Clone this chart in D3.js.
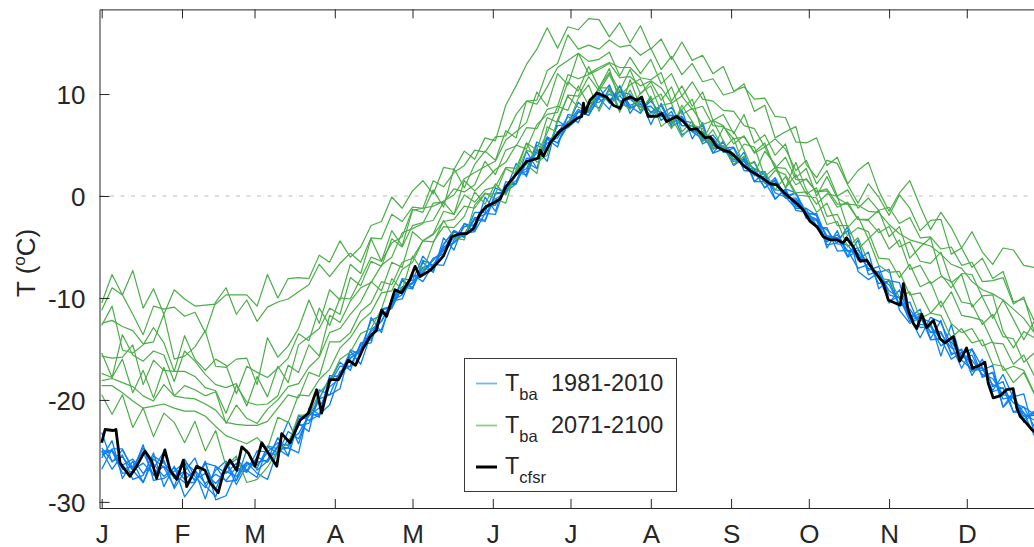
<!DOCTYPE html>
<html>
<head>
<meta charset="utf-8">
<script src="https://cdn.jsdelivr.net/npm/d3@7"></script>
<style>
  body { margin: 0; background: #fff; }
  svg { display: block; }
  text { font-family: "Liberation Sans", Arial, Helvetica, sans-serif; fill: #262626; }
</style>
</head>
<body>
<svg id="chart" width="1034" height="547"></svg>
<script>
// ---- axis labels ----
const monthStarts = [1, 32, 60, 91, 121, 152, 182, 213, 244, 274, 305, 335];
const monthLabels = ["J", "F", "M", "A", "M", "J", "J", "A", "S", "O", "N", "D"];
const tempTicks = [-30, -20, -10, 0, 10];

// ---- CFSR reanalysis (day of year, temperature in degC) ----
const cfsrDays = [1,2.3,5.4,6.5,8.1,11.9,14.5,17.7,20.3,22.2,
  25.4,27.4,30,32.5,33.8,37.7,40.9,42.8,46,47.9,
  50.5,53.1,55.1,57.6,60.2,62.8,65.3,68.6,70.5,73.7,
  77.6,80.8,84,85.9,89.1,92.4,96.2,99,102,104.6,
  107,109.1,111,114.2,116.8,120,122,123.9,127.8,129.7,
  132.9,136.1,139.3,141.9,144.5,147.1,149.6,152.2,154.8,157,
  161.2,165.1,169.6,170.3,171.5,174.1,178,181.9,184.4,186.3,
  187,187.6,189.5,191.5,192.1,194.1,196,198.5,201.1,202.4,
  205,207.6,209.5,212,215.3,217.2,219.1,223,225.6,228.2,
  230.7,234,235.9,238.5,241,243.6,246.2,248.7,251.3,253.9,
  256.4,259,261.6,264.2,266.8,270,271.9,274.5,277.1,279.6,
  282.2,284.8,287.3,288.6,291.2,293.8,296.4,299,300.9,302.8,
  304.7,307.3,309.3,310.5,312.4,314.4,315.7,317.6,319.5,322.1,
  324.7,326.5,329.8,332.3,334.9,337.2,340.1,342,343.3,345.2,
  347.8,350.4,352.9,354.3,355.6,358.1,360.1,363,365];
const cfsrTemp = [-24.2,-22.9,-23.0,-22.9,-26.2,-27.5,-26.5,-25.0,-26.0,-27.7,
  -24.9,-26.9,-27.8,-25.9,-28.5,-26.5,-26.9,-28.1,-29.1,-27.2,
  -25.9,-26.9,-24.6,-25.2,-26.5,-24.2,-25.2,-26.5,-23.3,-24.2,
  -22.0,-21.3,-19.0,-21.3,-18.0,-18.0,-16.1,-16.6,-14.9,-13.8,
  -13.2,-11.2,-11.8,-9.2,-9.5,-8.2,-6.9,-7.9,-7.3,-6.8,
  -5.9,-4.0,-3.7,-3.7,-3.2,-1.7,-1.0,-0.7,-0.3,0.9,
  2.2,3.4,3.7,4.5,3.9,5.2,6.4,7.1,7.6,7.8,
  9.1,8.1,9.4,9.9,10.1,9.9,9.7,8.9,8.6,9.4,
  9.7,9.4,9.7,7.8,7.8,8.1,7.3,7.8,7.3,6.5,
  6.6,5.7,5.8,4.8,4.5,4.3,3.7,3.0,2.5,2.1,
  1.7,1.2,1.1,0.4,-0.2,-0.9,-1.4,-2.5,-3.0,-4.0,
  -4.3,-4.3,-4.6,-4.1,-5.0,-6.4,-6.3,-7.3,-7.9,-8.6,
  -10.2,-10.5,-10.7,-8.6,-11.2,-12.5,-13.0,-11.6,-12.9,-12.2,
  -14.0,-14.4,-13.8,-16.2,-14.9,-16.9,-16.6,-16.3,-18.4,-19.8,
  -19.6,-19.0,-18.9,-20.8,-21.6,-22.3,-22.9,-23.5,-24.0];

// ---- bias-adjusted ensemble members, sampled every 4 days from 1 January ----
const memberDays = d3.range(1, 362, 4);

// 1981-2010
const hist1 = [-25.0,-25.0,-27.2,-27.0,-24.4,-27.9,-27.7,-27.0,-26.1,-27.0,
  -29.7,-26.5,-28.0,-27.9,-24.9,-26.9,-26.0,-24.5,-22.1,-24.3,
  -21.2,-21.7,-17.6,-17.8,-15.9,-15.2,-13.3,-12.3,-10.5,-8.2,
  -9.1,-6.5,-7.5,-4.1,-5.3,-2.7,-3.0,-1.0,-0.7,0.5,
  3.2,1.9,4.6,3.4,7.4,6.7,7.6,9.0,9.6,10.9,
  8.4,9.9,9.0,7.8,8.0,7.9,7.8,6.3,5.6,4.9,
  5.2,4.0,3.4,2.7,2.1,0.3,-0.1,-1.2,-1.2,-1.9,
  -5.1,-3.4,-5.9,-4.3,-7.7,-7.4,-10.5,-9.2,-11.9,-11.1,
  -14.0,-12.2,-15.6,-15.0,-17.6,-16.0,-18.7,-18.2,-21.2,-20.7,
  -21.4];
const hist2 = [-25.7,-24.0,-27.7,-26.0,-28.1,-25.5,-26.2,-27.3,-28.1,-28.1,
  -26.2,-28.8,-26.2,-28.3,-26.4,-26.1,-25.9,-23.7,-25.5,-22.3,
  -23.1,-19.0,-19.5,-18.9,-15.1,-15.6,-11.9,-13.4,-10.1,-9.2,
  -8.6,-7.4,-6.3,-5.2,-4.6,-3.7,-3.5,-0.1,-1.5,1.4,
  1.2,4.4,2.7,5.6,4.8,8.0,7.7,8.3,10.7,9.1,
  10.8,8.1,9.6,7.0,9.1,7.0,8.4,5.6,7.2,4.2,
  5.4,3.0,4.3,1.4,2.4,-0.3,0.7,0.3,-1.8,-2.3,
  -4.8,-4.6,-3.0,-7.4,-8.2,-7.5,-7.2,-11.2,-12.5,-11.9,
  -12.4,-15.7,-12.6,-16.1,-17.0,-17.1,-16.6,-20.7,-19.2,-22.2,
  -21.2];
const hist3 = [-25.0,-26.8,-25.4,-27.8,-27.4,-25.2,-28.5,-26.5,-29.5,-28.1,
  -26.0,-29.8,-29.4,-27.1,-26.1,-27.2,-27.8,-24.9,-24.7,-25.2,
  -20.8,-21.4,-20.5,-17.5,-15.2,-16.5,-13.5,-13.1,-10.3,-10.1,
  -7.7,-8.4,-6.7,-6.8,-4.3,-2.7,-3.5,-1.7,-1.8,1.0,
  1.2,3.3,2.7,5.7,5.2,6.9,8.3,7.9,9.6,8.5,
  10.8,8.8,8.1,9.6,7.4,8.3,6.0,6.6,6.2,4.2,
  4.6,3.4,3.6,1.4,1.4,-0.3,0.7,-1.4,-1.6,-3.1,
  -3.1,-5.4,-5.3,-7.1,-6.7,-8.0,-10.3,-9.9,-12.3,-11.7,
  -14.1,-14.0,-16.0,-15.3,-17.2,-16.8,-19.2,-18.8,-21.2,-21.2,
  -23.5];
const hist4 = [-23.2,-26.1,-24.9,-26.7,-24.7,-26.7,-25.1,-27.7,-26.2,-28.0,
  -26.2,-26.5,-27.2,-26.2,-27.0,-25.0,-25.1,-24.2,-24.5,-21.8,
  -21.6,-19.9,-17.8,-17.6,-15.6,-15.0,-12.2,-11.7,-11.0,-8.1,
  -8.3,-5.9,-7.0,-4.7,-3.4,-4.0,-1.6,-1.6,0.8,0.3,
  2.2,2.4,5.3,4.7,6.9,7.0,9.2,8.2,10.2,9.2,
  10.2,10.0,8.4,9.3,8.0,8.7,6.9,6.9,5.4,6.0,
  4.7,4.8,3.0,3.3,1.3,1.4,0.0,0.3,-1.6,-1.9,
  -4.0,-4.3,-3.4,-6.3,-5.5,-9.1,-8.3,-8.5,-11.9,-13.9,
  -11.9,-12.4,-14.6,-16.9,-15.0,-16.8,-19.1,-17.5,-19.8,-21.9,
  -21.1];
const hist5 = [-25.2,-24.9,-26.4,-25.8,-27.2,-26.3,-27.5,-26.6,-27.8,-26.9,
  -28.2,-27.3,-27.9,-26.6,-27.1,-25.6,-26.1,-24.6,-24.7,-22.5,
  -22.3,-19.9,-19.5,-17.2,-16.7,-14.5,-13.8,-11.7,-11.0,-9.0,
  -8.5,-7.0,-6.8,-5.0,-4.6,-3.0,-2.8,-1.2,-0.9,0.9,
  1.5,3.3,3.7,5.2,5.7,7.3,7.6,9.1,9.2,10.0,
  9.3,9.5,8.7,8.8,7.8,7.9,6.9,6.9,5.7,5.6,
  4.3,4.2,2.8,2.6,1.3,1.2,-0.1,-0.4,-1.9,-2.3,
  -3.9,-4.1,-5.4,-5.6,-7.1,-7.5,-9.3,-10.0,-11.7,-12.0,
  -13.3,-13.5,-14.9,-15.2,-16.7,-16.9,-18.5,-18.9,-20.3,-20.7,
  -22.6];
const hist6 = [-24.7,-26.0,-25.6,-26.9,-26.2,-27.3,-26.5,-27.6,-27.0,-27.8,
  -27.2,-28.2,-27.0,-27.5,-26.2,-26.4,-25.2,-25.4,-23.9,-23.3,
  -21.5,-20.8,-18.7,-17.9,-15.9,-15.1,-13.1,-12.3,-10.3,-9.7,
  -7.9,-7.6,-6.1,-5.7,-4.0,-3.7,-2.2,-1.8,-0.3,0.3,
  2.1,2.7,4.3,4.6,6.3,6.7,8.2,8.5,9.8,9.4,
  9.8,8.9,9.3,8.2,8.3,7.3,7.5,6.3,6.3,5.0,
  4.9,3.6,3.4,2.0,1.9,0.6,0.5,-1.0,-1.3,-2.9,
  -3.3,-4.7,-4.8,-6.2,-6.5,-8.1,-8.7,-10.6,-11.1,-12.6,
  -12.7,-14.1,-14.3,-15.8,-16.1,-17.5,-17.9,-19.5,-19.7,-21.3,
  -22.0];
const hist7 = [-26.8,-24.8,-24.8,-26.9,-28.1,-25.8,-26.6,-28.5,-25.8,-27.5,
  -28.6,-26.9,-26.0,-27.9,-26.1,-26.7,-24.6,-25.2,-23.1,-23.8,
  -21.5,-21.4,-18.4,-16.7,-16.7,-14.6,-14.4,-11.2,-10.9,-8.9,
  -9.1,-6.3,-6.8,-5.3,-3.5,-4.1,-2.1,-2.4,0.3,0.4,
  1.2,3.7,3.7,5.8,5.2,7.2,8.5,7.9,9.9,9.4,
  10.3,8.6,9.1,7.7,8.9,7.2,7.7,6.4,6.9,4.6,
  4.9,3.0,3.7,2.5,0.8,1.6,-0.2,0.3,-2.2,-2.4,
  -4.5,-3.8,-5.4,-5.1,-7.3,-6.9,-9.7,-10.0,-12.0,-11.5,
  -13.4,-13.3,-15.4,-15.5,-15.0,-17.8,-17.3,-20.7,-19.7,-19.4,
  -23.2];
const hist8 = [-25.4,-25.0,-26.8,-26.5,-25.1,-27.4,-25.9,-28.7,-27.0,-25.7,
  -28.4,-29.5,-26.6,-25.8,-26.9,-27.6,-24.5,-24.8,-25.5,-21.5,
  -22.0,-21.5,-18.2,-16.3,-17.1,-14.4,-14.1,-11.1,-10.8,-8.3,
  -9.0,-7.0,-7.4,-4.8,-3.4,-3.9,-2.3,-2.5,0.2,0.3,
  2.3,2.1,5.0,4.5,6.1,7.8,7.2,9.2,8.6,10.6,
  9.3,8.6,9.7,8.2,8.9,6.8,7.4,7.2,5.1,5.7,
  4.3,4.7,2.5,2.4,0.8,1.8,-0.2,-0.2,-1.8,-1.7,
  -4.3,-4.1,-6.0,-5.3,-6.6,-8.6,-8.3,-10.7,-10.4,-12.9,
  -12.8,-14.7,-14.0,-15.8,-15.6,-17.7,-17.3,-19.9,-19.7,-21.6,
  -21.5];

// 2071-2100
const fut1 = [-10.5,-7.7,-9.7,-7.3,-11.0,-9.1,-11.6,-9.2,-10.1,-10.8,
  -10.7,-10.6,-9.7,-9.7,-9.7,-10.8,-7.7,-10.0,-8.1,-8.0,
  -8.1,-5.8,-6.5,-4.4,-6.0,-5.0,-2.9,-2.5,-0.1,-1.2,
  0.5,1.5,0.2,2.8,2.6,4.4,3.6,5.7,5.4,8.9,
  10.8,12.9,14.4,16.5,14.5,16.6,16.3,17.4,17.3,15.6,
  17.0,15.0,16.7,14.4,15.4,13.4,15.1,13.3,13.8,12.0,
  12.7,10.3,10.7,9.5,9.6,7.8,7.7,5.3,5.2,5.7,
  3.0,3.8,1.2,2.5,3.3,0.5,-1.5,0.3,1.5,-1.0,
  -3.3,-1.6,-3.1,-5.1,-3.5,-5.5,-6.7,-5.1,-5.3,-6.8,
  -7.0];
const fut2 = [-11.2,-9.0,-9.7,-11.6,-13.6,-10.8,-11.1,-10.9,-11.8,-11.4,
  -13.4,-10.4,-9.0,-11.6,-10.2,-12.3,-10.9,-10.4,-10.1,-9.4,
  -8.7,-6.7,-7.9,-6.6,-5.6,-6.5,-4.1,-4.2,-1.8,-2.5,
  -1.1,-1.2,1.5,0.9,2.3,3.0,4.5,4.3,5.8,5.9,
  8.0,9.3,9.4,12.3,13.0,15.8,14.4,14.8,14.4,15.3,
  14.6,14.8,13.8,14.5,12.4,13.7,11.9,13.0,11.2,11.5,
  9.9,10.2,11.0,8.3,8.9,5.7,6.3,6.8,3.1,1.8,
  3.5,3.2,1.1,-0.7,1.2,-0.1,-1.9,0.1,-1.2,-3.4,
  -2.4,-2.3,-5.7,-5.1,-7.0,-6.1,-8.1,-7.4,-10.4,-10.1,
  -12.2];
const fut3 = [-12.5,-12.2,-12.8,-13.2,-14.5,-14.3,-11.6,-16.0,-15.7,-14.8,
  -13.2,-16.7,-16.8,-16.0,-15.9,-18.5,-13.9,-15.8,-14.7,-13.0,
  -10.2,-12.5,-9.2,-10.2,-6.7,-7.6,-4.2,-6.4,-3.4,-4.9,
  -1.4,-1.2,-1.0,-0.5,0.1,1.7,2.3,2.9,3.4,5.5,
  6.3,7.2,10.2,8.8,12.0,10.9,14.0,12.0,12.6,13.1,
  12.6,12.6,11.6,11.4,12.1,9.3,10.8,8.8,10.2,7.4,
  8.0,6.1,8.0,5.2,6.0,4.0,5.1,1.8,2.7,0.0,
  1.9,-0.2,-0.8,-0.9,-1.5,-1.6,-2.8,-3.7,-4.3,-4.6,
  -4.9,-5.7,-6.7,-7.1,-8.4,-9.2,-9.6,-10.2,-11.1,-12.0,
  -13.4];
const fut4 = [-12.7,-10.8,-15.1,-15.4,-14.6,-12.9,-14.4,-17.2,-13.7,-16.0,
  -17.1,-16.0,-16.6,-19.4,-16.7,-17.3,-17.8,-16.9,-15.9,-13.5,
  -14.2,-11.0,-12.7,-10.0,-10.1,-8.1,-6.0,-6.4,-4.6,-4.0,
  -1.3,-1.6,0.6,-1.1,2.7,0.8,3.1,4.4,3.5,6.4,
  5.7,9.3,9.0,10.7,12.6,13.3,14.0,13.2,13.4,14.1,
  11.8,13.6,12.0,13.4,11.0,12.0,9.8,11.2,9.5,9.3,
  8.4,8.3,6.9,6.6,4.8,5.6,4.6,2.5,3.5,1.2,
  2.5,0.0,0.6,-1.2,-0.2,-1.4,-1.1,-2.7,-2.1,-4.1,
  -4.0,-5.2,-5.0,-6.8,-6.5,-8.4,-8.3,-8.0,-10.6,-9.9,
  -13.3];
const fut5 = [-15.4,-17.8,-13.6,-15.6,-16.2,-15.2,-15.6,-18.2,-15.2,-16.2,
  -17.5,-18.5,-18.8,-18.4,-20.6,-17.7,-19.7,-16.7,-18.3,-14.6,
  -13.8,-13.0,-11.0,-11.6,-8.0,-8.8,-6.4,-6.9,-4.2,-5.0,
  -2.9,-2.6,-2.4,-0.6,-1.8,1.5,0.5,1.5,2.6,3.3,
  5.0,4.6,7.0,8.0,8.2,11.2,10.3,12.7,10.6,12.1,
  10.3,12.4,10.0,11.2,9.4,10.7,8.0,8.6,7.0,7.4,
  6.9,5.1,5.9,4.2,4.8,2.8,2.7,1.1,1.7,0.4,
  0.5,-1.1,-0.6,-2.3,-2.4,-3.6,-3.0,-5.0,-4.5,-6.4,
  -6.6,-5.5,-8.5,-7.7,-10.9,-9.8,-9.7,-13.3,-14.9,-13.3,
  -13.9];
const fut6 = [-15.7,-15.9,-15.8,-14.6,-18.5,-16.1,-17.1,-17.2,-17.2,-17.7,
  -18.8,-19.1,-21.3,-18.6,-20.2,-20.5,-20.4,-19.6,-16.6,-17.3,
  -14.6,-15.7,-11.7,-12.4,-10.3,-9.0,-8.5,-6.8,-6.0,-3.6,
  -3.2,-2.7,-0.7,-0.6,0.7,0.4,1.1,3.4,2.1,4.5,
  4.9,6.7,6.6,8.5,8.8,11.9,11.5,11.9,12.4,13.0,
  11.6,11.7,10.8,11.3,10.6,9.1,9.8,8.5,8.8,6.9,
  6.8,5.6,5.8,4.3,5.2,2.7,3.8,1.6,1.6,0.4,
  0.7,-0.8,-0.8,-2.3,-2.3,-1.4,-4.0,-3.0,-6.1,-5.0,
  -4.1,-7.7,-9.0,-7.6,-7.7,-9.9,-12.0,-10.2,-12.1,-14.1,
  -12.3];
const fut7 = [-17.4,-17.8,-16.0,-19.3,-17.1,-19.8,-16.8,-19.6,-18.6,-19.0,
  -19.6,-19.2,-22.3,-20.5,-21.8,-22.3,-20.9,-20.0,-18.7,-18.4,
  -16.8,-15.8,-13.4,-13.0,-11.6,-10.4,-8.4,-9.3,-6.5,-7.0,
  -3.5,-4.4,-3.7,-1.5,-1.8,0.1,-0.6,0.6,0.9,2.8,
  2.7,5.2,4.5,7.7,7.2,9.9,9.8,11.7,10.3,11.9,
  9.8,10.9,11.5,9.4,10.0,7.1,8.5,9.5,6.1,4.6,
  6.7,6.3,4.5,2.2,4.4,3.1,0.8,3.3,0.6,-0.8,
  0.2,0.0,-3.1,-2.0,-4.2,-3.2,-5.2,-4.3,-7.2,-6.8,
  -8.6,-7.9,-8.4,-10.4,-10.6,-12.6,-11.6,-13.8,-14.0,-16.3,
  -15.4];
const fut8 = [-18.1,-17.9,-18.3,-18.7,-19.6,-20.1,-18.5,-19.6,-19.8,-19.9,
  -20.4,-21.0,-22.2,-22.4,-22.5,-22.5,-22.1,-20.8,-19.5,-19.8,
  -17.3,-17.7,-14.3,-14.3,-13.4,-11.3,-10.5,-8.4,-8.7,-6.5,
  -6.1,-4.4,-3.8,-2.5,-2.3,-1.0,-1.2,0.2,0.2,2.7,
  2.1,4.5,4.1,6.2,8.8,8.4,10.8,8.9,10.6,12.5,
  9.2,8.5,10.1,10.8,8.2,6.6,8.9,7.3,5.4,7.4,
  5.4,3.6,5.1,4.8,1.9,2.8,0.8,2.1,0.2,0.8,
  -2.0,-1.8,-3.9,-3.1,-3.5,-6.1,-6.2,-8.0,-6.7,-8.9,
  -8.4,-10.9,-9.4,-11.7,-11.9,-12.2,-14.4,-14.5,-16.5,-15.6,
  -17.6];
const fut9 = [-18.6,-18.6,-19.3,-20.1,-20.8,-20.6,-20.4,-20.8,-21.1,-21.1,
  -21.6,-22.6,-23.5,-23.9,-24.3,-23.7,-24.8,-21.7,-22.2,-19.5,
  -19.6,-18.0,-17.0,-14.9,-13.9,-12.3,-11.4,-9.5,-9.3,-7.2,
  -6.5,-4.4,-4.5,-3.0,-3.1,-2.0,0.4,-0.8,1.2,0.1,
  2.3,5.2,3.3,4.0,7.5,9.8,8.7,8.4,10.6,10.6,
  8.2,11.4,8.7,8.0,8.9,9.1,6.3,7.3,5.3,6.5,
  4.6,5.7,2.8,3.4,1.3,2.5,2.1,0.3,0.4,-1.6,
  -0.7,-2.9,-2.9,-5.2,-4.2,-6.8,-7.5,-7.4,-9.7,-9.5,
  -11.5,-10.3,-12.5,-13.4,-13.0,-14.7,-14.3,-17.1,-16.7,-17.1,
  -19.3];
const fut10 = [-19.5,-21.4,-19.5,-22.7,-20.8,-23.6,-21.3,-22.2,-24.2,-22.1,
  -25.0,-23.0,-26.5,-25.5,-28.1,-27.8,-26.6,-24.9,-24.3,-21.5,
  -21.5,-19.3,-18.2,-16.0,-15.3,-13.5,-13.0,-11.1,-8.1,-9.2,
  -5.9,-7.4,-4.6,-2.4,-4.1,-4.3,-0.9,0.3,-0.3,-0.7,
  2.6,3.1,2.2,6.8,6.2,7.0,9.6,10.9,8.3,10.4,
  8.4,10.4,8.3,9.8,6.8,7.7,5.8,7.0,6.6,4.7,
  4.8,3.1,3.9,2.4,2.4,0.6,1.9,0.1,0.0,-0.2,
  -2.8,-2.5,-5.0,-4.1,-6.5,-8.1,-8.2,-9.9,-9.4,-12.0,
  -11.5,-11.7,-13.9,-13.0,-14.4,-14.1,-16.5,-16.7,-18.3,-17.3,
  -19.4];

const histMembers = [hist1, hist2, hist3, hist4, hist5, hist6, hist7, hist8];
const futMembers = [fut1, fut2, fut3, fut4, fut5, fut6, fut7, fut8, fut9, fut10];

// ---- drawing ----
const svg = d3.select("#chart");
const ink = "#262626";

const x = d3.scaleLinear().domain([0.15, 365]).range([99.5, 1044.5]);
const y = d3.scaleLinear().domain([-30.6, 18.3]).range([508, 9.4]);

svg.append("defs").append("clipPath").attr("id", "plot-area")
  .append("rect")
  .attr("x", x(0.15)).attr("y", y(18.3))
  .attr("width", x(365) - x(0.15)).attr("height", y(-30.6) - y(18.3));

// dashed freezing line
svg.append("line")
  .attr("x1", x(0.15)).attr("x2", x(365))
  .attr("y1", y(0)).attr("y2", y(0))
  .attr("stroke", "#bdbdbd").attr("stroke-width", 1)
  .attr("stroke-dasharray", "4,6.5");

const plot = svg.append("g").attr("clip-path", "url(#plot-area)");

const memberLine = d3.line()
  .x((d, i) => x(memberDays[i]))
  .y(d => y(d));

plot.append("g").selectAll("path")
  .data(histMembers)
  .join("path")
  .attr("d", memberLine)
  .attr("fill", "none")
  .attr("stroke", "#0b80f4")
  .attr("stroke-width", 1.3)
  .attr("stroke-linejoin", "round");

plot.append("g").selectAll("path")
  .data(futMembers)
  .join("path")
  .attr("d", memberLine)
  .attr("fill", "none")
  .attr("stroke", "#4cad49")
  .attr("stroke-width", 1.2)
  .attr("stroke-linejoin", "round");

const cfsrLine = d3.line()
  .x((d, i) => x(cfsrDays[i]))
  .y(d => y(d));

plot.append("path")
  .datum(cfsrTemp)
  .attr("d", cfsrLine)
  .attr("fill", "none")
  .attr("stroke", "#000")
  .attr("stroke-width", 2.8)
  .attr("stroke-linejoin", "round");

// ---- axes (ticks point inward) ----
const bottomAxis = d3.axisBottom(x)
  .tickValues(monthStarts)
  .tickFormat((d, i) => monthLabels[i])
  .tickSizeInner(-9).tickSizeOuter(0);
const gx = svg.append("g")
  .attr("transform", `translate(0,${y(-30.6)})`)
  .call(bottomAxis);
gx.selectAll("text").attr("y", 34.5).attr("dy", null);

const topAxis = d3.axisTop(x)
  .tickValues(monthStarts)
  .tickFormat("")
  .tickSizeInner(-9).tickSizeOuter(0);
svg.append("g")
  .attr("transform", `translate(0,${y(18.3)})`)
  .call(topAxis);

const leftAxis = d3.axisLeft(y)
  .tickValues(tempTicks)
  .tickFormat(d => String(d))
  .tickSizeInner(-10).tickSizeOuter(0)
  .tickPadding(14);
const gy = svg.append("g")
  .attr("transform", `translate(${x(0.15)},0)`)
  .call(leftAxis);
gy.selectAll("text").attr("dy", "0.38em");

svg.selectAll(".domain, .tick line").attr("stroke", ink).attr("stroke-width", 1);
svg.selectAll(".tick text")
  .attr("font-family", '"Liberation Sans", Arial, Helvetica, sans-serif')
  .attr("font-size", 26)
  .attr("fill", ink);

// y-axis title
const ylab = svg.append("text")
  .attr("transform", "translate(35,297) rotate(-90)")
  .attr("font-size", 26);
ylab.append("tspan").text("T (");
ylab.append("tspan").attr("font-size", 17).attr("dy", -10).text("o");
ylab.append("tspan").attr("dy", 10).text("C)");

// ---- legend ----
const legendItems = [
  { sub: "ba", tail: "1981-2010", color: "#72b5ff", width: 1.8 },
  { sub: "ba", tail: "2071-2100", color: "#8dcf89", width: 1.8 },
  { sub: "cfsr", tail: "", color: "#000", width: 3 }
];
const legend = svg.append("g");
legend.append("rect")
  .attr("x", 464.5).attr("y", 358.5)
  .attr("width", 212).attr("height", 133)
  .attr("fill", "#fff").attr("stroke", "#3a3a3a").attr("stroke-width", 1);

const rowY = [383.5, 425.5, 467];
legendItems.forEach((item, i) => {
  const ly = rowY[i];
  legend.append("line")
    .attr("x1", 476).attr("x2", 497)
    .attr("y1", ly).attr("y2", ly)
    .attr("stroke", item.color).attr("stroke-width", item.width);
  const t = legend.append("text")
    .attr("x", 505).attr("y", ly + 7)
    .attr("font-size", 23.5);
  t.append("tspan").text("T");
  t.append("tspan").attr("font-size", 16.5).attr("dy", 9).text(item.sub);
  if (item.tail) {
    t.append("tspan").attr("x", 551).attr("dy", -9).text(item.tail);
  }
});
</script>
</body>
</html>
